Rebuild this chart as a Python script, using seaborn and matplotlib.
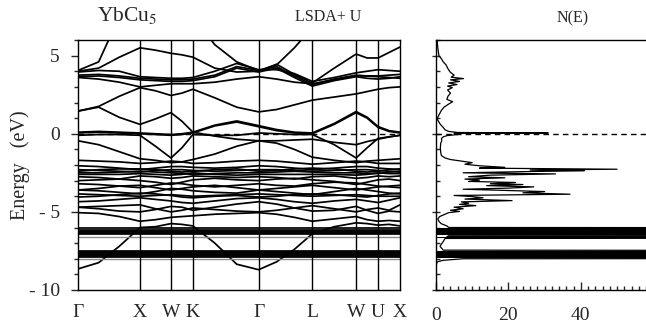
import numpy as np
import pandas as pd
import matplotlib
matplotlib.use("Agg")
import matplotlib.pyplot as plt
from matplotlib.ticker import MultipleLocator
import seaborn as sns

# k-path (fcc) : high symmetry points and sample nodes along the path
sym_labels = ["Γ", "X", "W", "K", "Γ", "L", "W", "U", "X"]
sym_k = [0.0, 1.0, 1.5, 1.854, 2.914, 3.780, 4.487, 4.841, 5.195]
k_nodes = [0.0, 0.333, 0.667, 1.0, 1.25, 1.5, 1.677, 1.854, 2.207, 2.561,
           2.914, 3.203, 3.491, 3.780, 4.134, 4.487, 4.664, 4.841, 5.018, 5.195]

# band energies (eV) at k_nodes
low_bands = [
    [-8.65, -8.25, -7.2, -6.0, -5.95, -5.75, -5.8, -5.9, -7.0, -8.35, -8.7, -8.2, -7.4, -6.4, -5.95, -5.7, -5.75, -5.85, -5.8, -5.9],
    [-5.05, -5.1, -5.3, -5.6, -5.5, -5.35, -5.3, -5.25, -5.15, -5.1, -5.05, -5.15, -5.35, -5.6, -5.45, -5.3, -5.5, -5.6, -5.55, -5.6],
    [-4.7, -4.65, -4.6, -4.55, -4.8, -5.0, -4.9, -4.75, -4.85, -4.95, -5.0, -4.9, -4.75, -4.6, -4.8, -5.0, -4.85, -4.75, -4.9, -4.55],
    [-4.7, -4.8, -4.95, -5.0, -4.85, -4.65, -4.7, -4.9, -4.7, -4.5, -4.35, -4.5, -4.75, -4.95, -4.9, -4.65, -4.9, -5.1, -4.95, -5.0],
    [-4.35, -4.3, -4.2, -4.1, -4.2, -4.3, -4.4, -4.45, -4.3, -4.15, -4.1, -4.2, -4.35, -4.45, -4.3, -4.2, -4.3, -4.4, -4.25, -4.1],
]
d_bands = [
    [-3.85, -3.9, -3.95, -4.0, -3.95, -3.9, -3.95, -4.0, -3.95, -3.9, -3.85, -3.9, -3.95, -4.0, -3.95, -3.9, -3.95, -4.0, -4.0, -4.0],
    [-4.05, -4.0, -3.9, -3.8, -3.85, -3.95, -4.05, -4.1, -4.0, -3.95, -4.05, -4.0, -3.9, -3.85, -3.9, -4.0, -4.05, -3.95, -3.85, -3.8],
    [-3.6, -3.65, -3.75, -3.85, -3.7, -3.5, -3.55, -3.65, -3.75, -3.8, -3.6, -3.7, -3.8, -3.9, -3.7, -3.5, -3.6, -3.7, -3.8, -3.85],
    [-3.6, -3.5, -3.35, -3.3, -3.45, -3.6, -3.5, -3.4, -3.3, -3.45, -3.6, -3.5, -3.4, -3.3, -3.45, -3.6, -3.5, -3.4, -3.35, -3.3],
    [-3.2, -3.25, -3.35, -3.45, -3.3, -3.15, -3.2, -3.3, -3.4, -3.3, -3.2, -3.3, -3.35, -3.2, -3.1, -3.15, -3.25, -3.35, -3.4, -3.45],
    [-3.0, -2.95, -2.9, -3.0, -3.1, -3.25, -3.1, -2.95, -2.85, -2.95, -3.0, -2.9, -2.85, -2.95, -3.05, -3.25, -3.1, -2.95, -2.9, -3.0],
    [-2.75, -2.8, -2.9, -2.7, -2.75, -2.85, -2.8, -2.7, -2.75, -2.8, -2.75, -2.8, -2.9, -2.75, -2.7, -2.85, -2.8, -2.7, -2.75, -2.7],
    [-2.5, -2.5, -2.45, -2.4, -2.45, -2.5, -2.55, -2.6, -2.55, -2.5, -2.5, -2.45, -2.4, -2.45, -2.5, -2.5, -2.55, -2.55, -2.45, -2.4],
    [-2.3, -2.35, -2.4, -2.45, -2.35, -2.3, -2.3, -2.35, -2.4, -2.35, -2.3, -2.3, -2.35, -2.4, -2.35, -2.3, -2.3, -2.35, -2.4, -2.45],
    [-2.4, -2.3, -2.25, -2.25, -2.3, -2.4, -2.45, -2.4, -2.3, -2.25, -2.4, -2.35, -2.25, -2.2, -2.25, -2.4, -2.45, -2.4, -2.3, -2.25],
    [-2.6, -2.6, -2.6, -2.55, -2.6, -2.65, -2.6, -2.5, -2.6, -2.65, -2.6, -2.6, -2.6, -2.6, -2.6, -2.65, -2.6, -2.5, -2.55, -2.55],
    [-2.05, -2.1, -2.2, -2.3, -2.2, -2.1, -2.1, -2.15, -2.2, -2.15, -2.05, -2.1, -2.2, -2.3, -2.2, -2.1, -2.1, -2.2, -2.25, -2.3],
    [-1.7, -1.75, -1.8, -1.9, -1.85, -1.75, -1.8, -1.9, -1.85, -1.75, -1.7, -1.75, -1.85, -1.95, -1.85, -1.75, -1.8, -1.9, -1.9, -1.9],
]
fermi_bands = [
    [-0.45, -0.7, -1.15, -1.6, -1.7, -1.85, -1.8, -1.65, -1.3, -0.8, -0.45, -0.6, -1.0, -1.5, -1.7, -1.85, -1.75, -1.7, -1.65, -1.6],
    [-0.1, -0.05, -0.05, -0.1, -0.8, -1.55, -0.9, -0.05, -0.1, -0.1, 0.05, 0.0, -0.05, -0.05, -0.7, -1.55, -0.9, -0.3, -0.2, -0.1],
    [0.05, 0.1, 0.05, 0.0, -0.05, -0.1, -0.05, 0.05, 0.5, 0.75, 0.45, 0.2, 0.05, 0.0, 0.6, 1.35, 1.0, 0.4, 0.15, 0.05],
    [0.1, 0.15, 0.1, 0.05, 0.0, -0.05, 0.0, 0.1, 0.55, 0.82, 0.52, 0.27, 0.1, 0.05, 0.66, 1.42, 1.06, 0.46, 0.2, 0.1],
    [1.45, 1.7, 1.05, 0.6, 0.95, 1.35, 0.8, 0.1, -0.15, -0.35, -0.45, -0.45, -0.4, -0.35, -0.55, -0.7, -0.5, -0.35, -0.2, -0.1],
]
upper_bands = [
    [1.45, 1.75, 2.4, 2.95, 2.75, 2.45, 2.6, 2.85, 2.3, 1.7, 1.4, 1.55, 1.85, 2.15, 2.35, 2.55, 2.7, 2.85, 2.95, 3.0],
    [3.6, 3.5, 3.3, 3.0, 3.1, 3.2, 3.2, 3.2, 3.3, 3.5, 3.65, 3.5, 3.3, 3.2, 3.45, 3.7, 3.7, 3.65, 3.6, 3.55],
    [3.75, 3.8, 3.7, 3.55, 3.5, 3.45, 3.45, 3.5, 3.75, 4.3, 4.05, 4.3, 3.7, 3.15, 3.5, 3.75, 3.7, 3.7, 3.75, 3.8],
    [3.65, 3.7, 3.6, 3.45, 3.4, 3.35, 3.35, 3.4, 3.65, 4.2, 3.95, 4.2, 3.6, 3.05, 3.4, 3.65, 3.55, 3.5, 3.55, 3.65],
    [3.95, 4.05, 4.0, 3.65, 3.6, 3.55, 3.55, 3.6, 4.0, 4.5, 4.1, 4.1, 3.85, 3.35, 3.6, 3.9, 4.0, 4.1, 4.05, 4.0],
    [4.0, 4.2, 4.9, 5.5, 5.35, 5.15, 5.05, 4.9, 4.2, 3.95, 4.0, 4.45, 3.8, 3.25, 4.2, 5.1, 4.85, 4.85, 5.2, 5.55],
    [4.05, 4.6, 7.5, 9.0, 9.0, 9.0, 9.0, 7.5, 5.7, 4.6, 4.05, 4.4, 5.5, 6.8, 8.0, 9.0, 9.0, 9.0, 9.0, 9.0],
]
# flat Yb 4f levels (eV)
f_levels = [-6.06, -6.13, -6.2, -6.27, -6.34, -6.41, -7.48, -7.56, -7.63, -7.7, -7.77, -7.84, -7.91]
f_levels_grey = [-6.62, -8.02]

# density of states N(E)
dos_e = [6.0, 5.5, 5.0, 4.8, 4.6, 4.4, 4.2, 3.95, 3.75, 3.62, 3.53, 3.45, 3.35, 3.25, 3.15, 3.05,
         2.95, 2.8, 2.6, 2.4, 2.2, 2.05, 1.9, 1.7, 1.5, 1.2, 0.95, 0.75, 0.6, 0.4, 0.25, 0.15,
         0.08, 0.05, 0.02, -0.05, -0.12, -0.2, -0.3, -0.45, -0.6, -0.9, -1.2, -1.4, -1.55, -1.65,
         -1.75, -1.85, -1.95, -2.05, -2.15, -2.2, -2.27, -2.32, -2.37, -2.42, -2.5, -2.57, -2.65,
         -2.75, -2.82, -2.9, -2.97, -3.05, -3.12, -3.2, -3.25, -3.32, -3.4, -3.48, -3.55, -3.62,
         -3.7, -3.78, -3.87, -3.95, -4.02, -4.1, -4.18, -4.28, -4.36, -4.45, -4.52, -4.6, -4.7,
         -4.8, -4.9, -4.97, -5.05, -5.15, -5.3, -5.45, -5.6, -5.75, -5.9, -6.0, -6.03, -6.5,
         -6.53, -6.6, -6.63, -6.66, -6.7, -6.9, -7.2, -7.45, -7.5, -7.97, -8.0, -8.1, -8.2,
         -8.5, -10.0]
dos_n = [0.3, 0.5, 0.8, 1.5, 2.0, 2.8, 3.2, 3.9, 5.0, 4.2, 7.6, 4.0, 6.5, 3.5, 5.8, 3.2,
         4.5, 3.2, 4.0, 3.3, 3.0, 4.6, 3.5, 2.2, 1.5, 0.8, 0.3, 0.8, 1.2, 2.0, 2.5, 3.5,
         6.0, 31.0, 5.0, 6.0, 3.0, 2.0, 1.5, 1.6, 1.3, 1.2, 1.3, 1.5, 2.5, 4.0,
         7.0, 10.0, 8.0, 12.0, 19.0, 12.0, 50.0, 26.0, 41.0, 25.0, 7.5, 33.0, 15.0,
         9.0, 19.0, 8.0, 12.0, 9.0, 22.0, 15.0, 24.0, 14.0, 27.0, 20.0, 7.5, 18.0,
         30.0, 24.0, 37.0, 5.0, 10.0, 13.0, 8.0, 21.0, 7.0, 9.0, 6.5, 11.0, 5.0,
         7.5, 4.0, 6.5, 3.5, 2.5, 1.0, 0.5, 0.8, 1.4, 3.0, 3.5, 300.0, 300.0,
         3.5, 3.0, 300.0, 300.0, 2.5, 2.0, 1.1, 2.0, 300.0, 300.0, 7.5, 2.0, 0.3,
         0.0, 0.0]

sns.set_style("ticks")
plt.rcParams["font.family"] = ["Liberation Serif", "DejaVu Serif"]
plt.rcParams["mathtext.fontset"] = "stix"

# long table of all bands
rows = []
for i, b in enumerate(low_bands + d_bands + fermi_bands + upper_bands):
    rows.append(pd.DataFrame({"k": k_nodes, "E": b, "band": f"b{i}"}))
for j, e in enumerate(f_levels):
    rows.append(pd.DataFrame({"k": [sym_k[0], sym_k[-1]], "E": [e, e], "band": f"f{j}"}))
bands_df = pd.concat(rows, ignore_index=True)

fig = plt.figure(figsize=(6.46, 3.26), dpi=100)
ax1 = fig.add_axes([78 / 646, 36 / 326, 322 / 646, 250 / 326])
ax2 = fig.add_axes([436 / 646, 36 / 326, 210 / 646, 250 / 326])

# band structure
sns.lineplot(data=bands_df, x="k", y="E", units="band", estimator=None, sort=False,
             color="black", lw=1.25, legend=False, ax=ax1)
for e in f_levels_grey:
    ax1.plot([sym_k[0], sym_k[-1]], [e, e], color="0.55", lw=1.0)
for k in sym_k[1:-1]:
    ax1.axvline(k, color="black", lw=1.0)
ax1.axhline(0, color="black", lw=1.0, ls=(0, (4, 3)))
ax1.set_xlim(sym_k[0], sym_k[-1])
ax1.set_ylim(-10, 6)
ax1.set_xticks(sym_k)
ax1.set_xticklabels(sym_labels, fontsize=14)
ax1.tick_params(axis="x", length=0, pad=10)
ax1.set_yticks([-10, -5, 0, 5])
ax1.set_yticklabels(["- 10", "- 5", "0", "5"], fontsize=14)
ax1.yaxis.set_minor_locator(MultipleLocator(1))
ax1.tick_params(axis="y", which="major", direction="out", length=5, width=1, pad=8)
ax1.tick_params(axis="y", which="minor", direction="out", length=3, width=1)
ax1.set_xlabel("")
ax1.set_ylabel("Energy   (eV)", fontsize=14.5)
ax1.yaxis.set_label_coords(-0.15, 0.5)
for s in ax1.spines.values():
    s.set_linewidth(1.0)
    s.set_color("black")

# density of states
sns.lineplot(x=dos_n, y=dos_e, sort=False, estimator=None, orient="y",
             color="black", lw=0.9, ax=ax2)
ax2.fill_betweenx(dos_e, 0, dos_n, where=np.array(dos_n) > 100, color="black", lw=0)
ax2.axhline(0, color="black", lw=1.0, ls=(0, (4, 3)))
ax2.set_xlim(0, 58)
ax2.set_ylim(-10, 6)
ax2.set_xticks([0, 20, 40])
ax2.set_xticklabels(["0", "20", "40"], fontsize=14)
ax2.xaxis.set_minor_locator(MultipleLocator(2))
ax2.tick_params(axis="x", which="major", direction="in", length=6, width=1, pad=12)
ax2.tick_params(axis="x", which="minor", direction="in", length=3, width=1)
ax2.set_yticks([-10, -5, 0, 5])
ax2.yaxis.set_minor_locator(MultipleLocator(1))
ax2.set_yticklabels([])
ax2.tick_params(axis="y", which="major", direction="inout", length=6, width=1)
ax2.tick_params(axis="y", which="minor", direction="in", length=3, width=1)
ax2.set_xlabel("")
ax2.set_ylabel("")
ax2.spines["right"].set_visible(False)
for s in ax2.spines.values():
    s.set_linewidth(1.0)
    s.set_color("black")

fig.text(127 / 646, 1 - 21 / 326, "YbCu$_5$", fontsize=15.5, ha="center", va="baseline")
fig.text(328 / 646, 1 - 21 / 326, "LSDA+ U", fontsize=11.5, ha="center", va="baseline")
fig.text(573 / 646, 1 - 22 / 326, "N(E)", fontsize=11.5, ha="center", va="baseline")

fig.savefig("out.png", dpi=100)
